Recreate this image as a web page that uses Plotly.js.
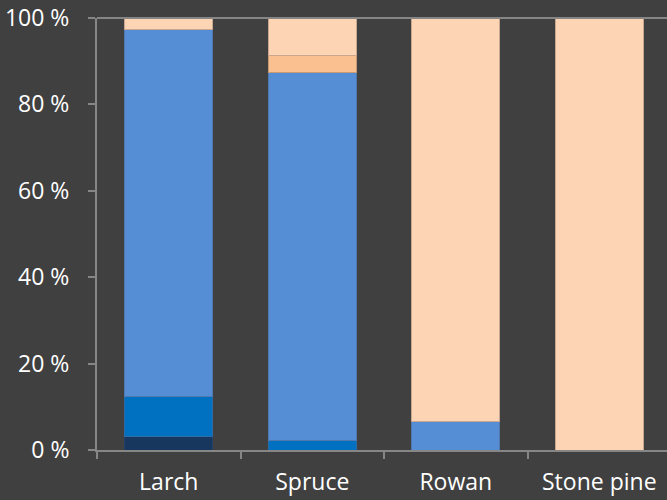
<!DOCTYPE html>
<html><head><meta charset="utf-8">
<script src="https://cdn.plot.ly/plotly-3.0.1.min.js"></script>
<style>html,body{margin:0;padding:0;background:#404040;}</style>
</head><body>
<div id="chart" style="width:667px;height:500px;"></div>
<script>
const categories = ["Larch", "Spruce", "Rowan", "Stone pine"];
const seriesNames = ["S1", "S2", "S3", "S4", "S5"];
const s1 = [3.2, 0, 0, 0];
const s2 = [9.3, 2.1, 0, 0];
const s3 = [84.8, 85.2, 6.7, 0];
const s4 = [0, 4.1, 0, 0];
const s5 = [2.7, 8.6, 93.3, 100];
const colors = ["#17375e", "#0070c0", "#558ed5", "#fac090", "#fdd5b4"];
const borders = ["#23416a", "#2d6aa6", "#4f78b0", "#c79a76", "#c9a68d"];
const yTicks = [0, 20, 40, 60, 80, 100];
const yTickText = ["0 %", "20 %", "40 %", "60 %", "80 %", "100 %"];

const all = [s1, s2, s3, s4, s5];
const traces = all.map((vals, i) => ({
  type: 'bar', x: categories, y: vals, name: seriesNames[i],
  marker: {color: colors[i], line: {color: borders[i], width: 1}},
  hoverinfo: 'skip'
}));

const layout = {
  width: 667, height: 500,
  paper_bgcolor: '#404040', plot_bgcolor: '#404040',
  margin: {l: 97, r: 0, t: 18, b: 50},
  barmode: 'stack', bargap: 0.39,
  showlegend: false,
  font: {family: '"Open Sans", sans-serif', color: '#ffffff', size: 23},
  xaxis: {
    range: [-0.5, 3.472], showgrid: false, zeroline: false,
    showline: true, linecolor: '#868686', linewidth: 2,
    ticks: 'outside', ticklen: 7, tickcolor: '#868686', tickwidth: 2,
    tickson: 'boundaries', tickfont: {size: 23, color: '#ffffff'},
    ticklabelstandoff: 10
  },
  yaxis: {
    range: [0, 100], tickvals: yTicks, ticktext: yTickText,
    showgrid: false, zeroline: false,
    showline: true, linecolor: '#868686', linewidth: 2,
    ticks: 'outside', ticklen: 7, tickcolor: '#868686', tickwidth: 2,
    tickfont: {size: 23, color: '#ffffff'},
    ticklabelstandoff: 14
  },
  shapes: [{type: 'line', xref: 'paper', yref: 'paper', x0: 0, x1: 1, y0: 1, y1: 1,
            line: {color: '#868686', width: 2}}]
};
Plotly.newPlot('chart', traces, layout, {displayModeBar: false, staticPlot: true});
</script>
</body></html>
